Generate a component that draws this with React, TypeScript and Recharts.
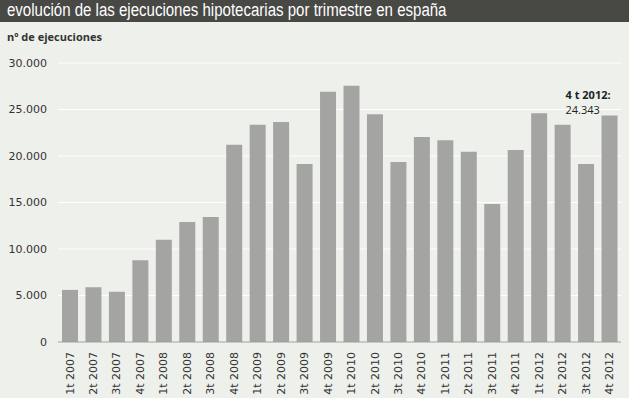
import React from "react";
import { BarChart, Bar, XAxis, YAxis, CartesianGrid, LabelList } from "recharts";

const quarters = [
  "1t 2007", "2t 2007", "3t 2007", "4t 2007",
  "1t 2008", "2t 2008", "3t 2008", "4t 2008",
  "1t 2009", "2t 2009", "3t 2009", "4t 2009",
  "1t 2010", "2t 2010", "3t 2010", "4t 2010",
  "1t 2011", "2t 2011", "3t 2011", "4t 2011",
  "1t 2012", "2t 2012", "3t 2012", "4t 2012",
];
const executions = [
  5600, 5900, 5400, 8800,
  11000, 12900, 13450, 21200,
  23350, 23650, 19150, 26900,
  27550, 24500, 19350, 22050,
  21700, 20450, 14850, 20650,
  24600, 23350, 19150, 24343,
];
const yTicks = [0, 5000, 10000, 15000, 20000, 25000, 30000];
const title = "evolución de las ejecuciones hipotecarias por trimestre en españa";
const subtitle = "nº de ejecuciones";
const noteLabel = "4 t 2012:";

const data = quarters.map((q, i) => ({ q, v: executions[i] }));

const fmt = (n: number) => String(n).replace(/\B(?=(\d{3})+(?!\d))/g, ".");

const XTick = (props: any) => {
  const { x, y, payload } = props;
  return (
    <text
      x={x}
      y={y}
      dy="0.35em"
      transform={`rotate(-90, ${x}, ${y})`}
      textAnchor="end"
      fill="#333"
      fontSize={11}
      fontFamily="DejaVu Sans, Verdana, sans-serif"
    >
      {payload.value}
    </text>
  );
};

const LastLabel = (props: any) => {
  const { x, y, index, value } = props;
  if (index !== executions.length - 1) return null;
  return (
    <g fontFamily="Open Sans, sans-serif" fontSize={11} fill="#222">
      <text x={x - 36} y={y - 17} fontWeight="bold">{noteLabel}</text>
      <text x={x - 36} y={y - 2}>{fmt(value)}</text>
    </g>
  );
};

export default function App() {
  return (
    <div
      style={{
        position: "absolute",
        left: 0,
        top: 0,
        width: 629,
        height: 398,
        background: "#eef0eb",
        overflow: "hidden",
      }}
    >
      <div
        style={{
          position: "absolute",
          left: 0,
          top: 0,
          width: 629,
          height: 22,
          background: "#484844",
        }}
      />
      <div
        style={{
          position: "absolute",
          left: 7,
          top: 0,
          height: 22,
          color: "#fff",
          fontFamily: "Liberation Sans, Arial, sans-serif",
          fontSize: 18,
          lineHeight: "21px",
          whiteSpace: "nowrap",
          transform: "scaleX(0.835)",
          transformOrigin: "0 0",
        }}
      >
        {title}
      </div>
      <div
        style={{
          position: "absolute",
          left: 7,
          top: 29,
          fontFamily: "Open Sans, sans-serif",
          fontWeight: "bold",
          fontSize: 11,
          lineHeight: "16px",
          color: "#333",
          whiteSpace: "nowrap",
        }}
      >
        {subtitle}
      </div>
      <div style={{ position: "absolute", left: 0, top: 0 }}>
        <BarChart
          width={629}
          height={398}
          data={data}
          margin={{ top: 63, right: 8, bottom: 0, left: 0 }}
          barSize={16}
        >
          <CartesianGrid vertical={false} stroke="#ffffff" strokeWidth={1} />
          <XAxis
            dataKey="q"
            interval={0}
            height={56}
            tickLine={false}
            tickSize={0}
            tickMargin={10}
            axisLine={{ stroke: "#9a9a9a", strokeWidth: 1 }}
            tick={<XTick />}
          />
          <YAxis
            width={58}
            domain={[0, 30000]}
            ticks={yTicks}
            axisLine={false}
            tickLine={false}
            tickSize={0}
            tickMargin={11}
            tickFormatter={fmt}
            tick={{ fill: "#333", fontSize: 11, fontFamily: "DejaVu Sans, Verdana, sans-serif" }}
          />
          <Bar dataKey="v" fill="#a4a5a2" isAnimationActive={false}>
            <LabelList dataKey="v" content={<LastLabel />} />
          </Bar>
        </BarChart>
      </div>
    </div>
  );
}
